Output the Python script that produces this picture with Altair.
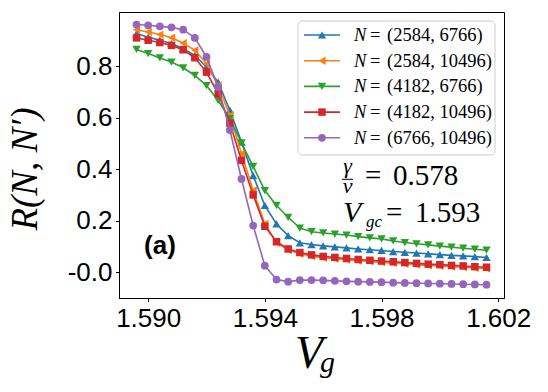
import altair as alt
import pandas as pd

# ---------------- data ----------------
Vg = [1.5896, 1.5900, 1.5904, 1.5908, 1.5912, 1.5916, 1.5920, 1.5924, 1.5928, 1.5932,
      1.5936, 1.5940, 1.5944, 1.5948, 1.5952, 1.5956, 1.5960, 1.5964, 1.5968, 1.5972,
      1.5976, 1.5980, 1.5984, 1.5988, 1.5992, 1.5996, 1.6000, 1.6004, 1.6008, 1.6012, 1.6016]

R_2584_6766 = [0.928, 0.914, 0.902, 0.889, 0.869, 0.843, 0.798, 0.739, 0.630, 0.506,
               0.376, 0.260, 0.188, 0.143, 0.115, 0.108, 0.103, 0.099, 0.095, 0.091,
               0.088, 0.085, 0.081, 0.078, 0.075, 0.072, 0.069, 0.066, 0.064, 0.061, 0.058]
R_2584_10496 = [0.943, 0.934, 0.924, 0.912, 0.891, 0.863, 0.811, 0.726, 0.610, 0.461,
                0.318, 0.188, 0.115, 0.087, 0.072, 0.063, 0.057, 0.053, 0.049, 0.045,
                0.042, 0.039, 0.036, 0.033, 0.030, 0.027, 0.025, 0.022, 0.020, 0.017, 0.015]
R_4182_6766 = [0.866, 0.850, 0.833, 0.817, 0.795, 0.765, 0.726, 0.668, 0.597, 0.503,
               0.412, 0.318, 0.260, 0.214, 0.172, 0.158, 0.153, 0.149, 0.145, 0.139,
               0.134, 0.130, 0.122, 0.116, 0.111, 0.107, 0.102, 0.098, 0.094, 0.090, 0.086]
R_4182_10496 = [0.911, 0.902, 0.893, 0.882, 0.865, 0.834, 0.778, 0.694, 0.580, 0.435,
                0.301, 0.179, 0.119, 0.091, 0.077, 0.068, 0.062, 0.058, 0.054, 0.050,
                0.047, 0.044, 0.041, 0.038, 0.035, 0.032, 0.030, 0.027, 0.025, 0.022, 0.020]
R_6766_10496 = [0.963, 0.960, 0.956, 0.952, 0.943, 0.911, 0.837, 0.720, 0.553, 0.363,
                0.182, 0.026, -0.028, -0.036, -0.030, -0.030, -0.031, -0.033, -0.035, -0.036,
                -0.037, -0.038, -0.040, -0.041, -0.042, -0.043, -0.044, -0.045, -0.046, -0.047, -0.048]

series_labels = ["(2584, 6766)", "(2584, 10496)", "(4182, 6766)", "(4182, 10496)", "(6766, 10496)"]
series_values = [R_2584_6766, R_2584_10496, R_4182_6766, R_4182_10496, R_6766_10496]
series_colors = ["#1f77b4", "#ff7f0e", "#2ca02c", "#d62728", "#9467bd"]
series_shapes = ["triangle-up", "triangle-left", "triangle-down", "square", "circle"]
series_sizes = [70, 70, 70, 56, 60]

x_ticks = [1.590, 1.594, 1.598, 1.602]
y_ticks = [0.0, 0.2, 0.4, 0.6, 0.8]

gamma_nu = "0.578"
vgc = "1.593"
panel = "(a)"

# ---------------- chart ----------------
W, H = 385, 286
SERIF = "Liberation Serif"
SANS = "Liberation Sans"

x_scale = alt.Scale(domain=[1.5890, 1.6022], nice=False, zero=False)
y_scale = alt.Scale(domain=[-0.0996, 1.0117], nice=False, zero=False)

x_enc = alt.X("Vg:Q", scale=x_scale,
              axis=alt.Axis(values=x_ticks, format=".3f", title=None, grid=False))
y_enc = alt.Y("R:Q", scale=y_scale,
              axis=alt.Axis(values=y_ticks, title=None, grid=False,
                            labelExpr="datum.value == 0 ? '-0.0' : format(datum.value, '.1f')"))

one = pd.DataFrame({"d": [0]})


def txt(text, x, y, size, font=SERIF, style="normal", weight="normal", align="left",
        baseline="alphabetic", angle=0):
    return alt.Chart(one).mark_text(
        text=text, font=font, fontSize=size, fontStyle=style, fontWeight=weight,
        align=align, baseline=baseline, angle=angle, color="black"
    ).encode(x=alt.value(x), y=alt.value(y))


layers = []
for lab, vals, col, shp, sz in zip(series_labels, series_values, series_colors,
                                   series_shapes, series_sizes):
    d = pd.DataFrame({"Vg": Vg, "R": vals, "series": lab})
    layers.append(alt.Chart(d).mark_line(color=col, strokeWidth=1.6).encode(x=x_enc, y=y_enc))
    layers.append(alt.Chart(d).mark_point(color=col, filled=True, opacity=1, shape=shp, size=sz)
                  .encode(x=x_enc, y=y_enc))

# legend box (matplotlib style)
layers.append(alt.Chart(one).mark_rect(fill="white", fillOpacity=0.8, stroke="#cccccc",
                                        strokeWidth=1, cornerRadius=4)
              .encode(x=alt.value(179), x2=alt.value(376), y=alt.value(9), y2=alt.value(143)))
row_y0, row_dy = 23, 25.7
for i, (lab, col, shp, sz) in enumerate(zip(series_labels, series_colors, series_shapes, series_sizes)):
    ry = row_y0 + i * row_dy
    layers.append(alt.Chart(one).mark_rule(color=col, strokeWidth=1.6)
                  .encode(x=alt.value(185), x2=alt.value(221), y=alt.value(ry)))
    layers.append(alt.Chart(one).mark_point(color=col, filled=True, opacity=1, shape=shp, size=sz)
                  .encode(x=alt.value(203), y=alt.value(ry)))
    layers.append(txt("N", 235, ry, 18.5, style="italic", baseline="middle"))
    layers.append(txt("=", 251, ry, 18.5, baseline="middle"))
    layers.append(txt(lab, 268, ry, 18.5, baseline="middle"))

# annotations: gamma/nu and V_gc
layers.append(txt("γ", 228.5, 161, 22, style="italic", align="center"))
layers.append(alt.Chart(one).mark_rule(color="black", strokeWidth=1)
              .encode(x=alt.value(223), x2=alt.value(234), y=alt.value(167.3)))
layers.append(txt("ν", 228.5, 181, 22, style="italic", align="center"))
layers.append(txt("=", 246, 173, 29))
layers.append(txt(gamma_nu, 274, 173, 29))
layers.append(txt("V", 224, 210, 30, style="italic"))
layers.append(txt("gc", 247, 215, 17, style="italic"))
layers.append(txt("=", 267, 210, 29))
layers.append(txt(vgc, 296, 210, 29))

# panel label
layers.append(txt(panel, 41, 234, 26, font=SANS, weight="bold", align="center", baseline="middle"))

# axis titles
layers.append(txt("R(N, N′)", -93, 157, 37, style="italic", align="center",
                  baseline="middle", angle=270))
layers.append(txt("V", 190, 356, 46, style="italic", align="center"))
layers.append(txt("g", 201, 360, 30, style="italic"))

chart = alt.layer(*layers).properties(
    width=W, height=H,
    autosize=alt.AutoSizeParams(type="none"),
    padding={"left": 111, "top": 4, "right": 36, "bottom": 86},
).configure_view(
    stroke="black", strokeWidth=1
).configure_axis(
    labelFont=SANS, labelFontSize=26, labelColor="black",
    domainColor="black", domainWidth=1, tickColor="black", tickWidth=1,
    tickSize=3.5, labelPadding=3.5, grid=False
)

chart.save("out.html", embed_options={"renderer": "svg", "actions": False})
